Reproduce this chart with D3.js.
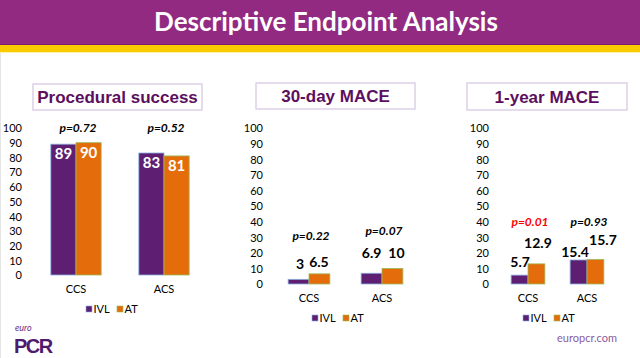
<!DOCTYPE html>
<html><head><meta charset="utf-8">
<script src="https://cdn.jsdelivr.net/npm/d3@7"></script>
<style>html,body{margin:0;padding:0;background:#fff;overflow:hidden}</style>
</head><body>
<svg id="c" width="640" height="358"></svg>
<script>
const categories = ["CCS", "ACS"];
const seriesNames = ["IVL", "AT"];
const yTicks = [0,10,20,30,40,50,60,70,80,90,100];
const panelTitles = ["Procedural success", "30-day MACE", "1-year MACE"];
const successIVL = [89, 83];
const successAT = [90, 81];
const mace30IVL = [3, 6.9];
const mace30AT = [6.5, 10];
const mace1yIVL = [5.7, 15.4];
const mace1yAT = [12.9, 15.7];
const pSuccess = ["p=0.72", "p=0.52"];
const pMace30 = ["p=0.22", "p=0.07"];
const pMace1y = ["p=0.01", "p=0.93"];
const pSignificant = [[false,false],[false,false],[true,false]];

const colors = {IVL:"#5E1F73", AT:"#E46C0A"};
const strokes = {IVL:"#8DB3E2", AT:"#9BBB59"};

const svg = d3.select("#c");
// header
svg.append("rect").attr("x",0).attr("y",0).attr("width",640).attr("height",45).attr("fill","#922A82");
svg.append("rect").attr("x",0).attr("y",44).attr("width",640).attr("height",1).attr("fill","#7A1F6E");
svg.append("rect").attr("x",0).attr("y",45).attr("width",640).attr("height",7).attr("fill","#F9CC00");
svg.append("rect").attr("x",0).attr("y",52).attr("width",640).attr("height",1).attr("fill","#FCEFB0");
svg.append("rect").attr("x",0).attr("y",53).attr("width",1).attr("height",305).attr("fill","#E4E4E4");
svg.append("text").attr("x",326).attr("y",31).attr("text-anchor","middle")
  .attr("font-family","Lato, 'Open Sans', sans-serif").attr("font-weight","bold")
  .attr("font-size",26).attr("fill","#fff").text("Descriptive Endpoint Analysis");

const panels = [
  {title:panelTitles[0], box:[33,84,169,26], ivl:successIVL, at:successAT, p:pSuccess, sig:pSignificant[0],
   y0:275, y1:128, tickX:22, xr:[32,208], inside:true, pY:[100,100], catY:289, legX:86, legY:309,
   dx:[[0,0],[0,0]], dy:[[0,0],[0,0]]},
  {title:panelTitles[1], box:[256,83,159,26], ivl:mace30IVL, at:mace30AT, p:pMace30, sig:pSignificant[1],
   y0:284, y1:128, tickX:263, xr:[272.5,418.5], inside:false, pY:[30.8,34], catY:298, legX:312, legY:318,
   dx:[[1.5,-0.5],[0,4]], dy:[[15,12],[20,15]]},
  {title:panelTitles[2], box:[467,83,160,27], ivl:mace1yIVL, at:mace1yAT, p:pMace1y, sig:pSignificant[2],
   y0:284, y1:128, tickX:489, xr:[498.5,616.5], inside:false, pY:[39.7,39.7], catY:298, legX:523, legY:318,
   dx:[[0.5,1.5],[-3.5,7.5]], dy:[[13,21],[8,19.5]]}
];

const fontC = "Lato, 'Open Sans', sans-serif";

panels.forEach(P => {
  const g = svg.append("g");
  g.append("rect").attr("x",P.box[0]).attr("y",P.box[1]).attr("width",P.box[2]).attr("height",P.box[3])
    .attr("fill","#fff").attr("stroke","#DDD0E8").attr("stroke-width",1.5);
  g.append("text").attr("x",P.box[0]+P.box[2]/2).attr("y",P.box[1]+P.box[3]/2+6)
    .attr("text-anchor","middle").attr("font-family","'Liberation Sans', Arial, sans-serif")
    .attr("font-weight","bold").attr("font-size",17).attr("fill","#5C0F5E").text(P.title);

  const y = d3.scaleLinear().domain([0,100]).range([P.y0,P.y1]);
  const x = d3.scaleBand().domain(categories).range(P.xr).paddingInner(0.428).paddingOuter(0.214);
  const xs = d3.scaleBand().domain(seriesNames).range([0,x.bandwidth()]);

  const ax = g.append("g").attr("transform",`translate(${P.tickX},0)`)
    .call(d3.axisLeft(y).tickValues(yTicks).tickSize(0).tickPadding(0));
  ax.select(".domain").remove();
  ax.selectAll("text").attr("font-family",fontC).attr("font-size",11).attr("fill","#000").attr("dy","0.35em");

  const data = categories.map((c,i)=>({c, i, vals:[{s:"IVL",v:P.ivl[i],j:0},{s:"AT",v:P.at[i],j:1}]}));
  const grp = g.selectAll(".grp").data(data).join("g").attr("transform",d=>`translate(${x(d.c)},0)`);
  grp.selectAll("rect").data(d=>d.vals).join("rect")
    .attr("x",d=>xs(d.s)).attr("y",d=>y(d.v)).attr("width",xs.bandwidth()).attr("height",d=>y(0)-y(d.v))
    .attr("fill",d=>colors[d.s]).attr("stroke",d=>strokes[d.s]).attr("stroke-width",0.8);

  grp.each(function(d){
    const gg = d3.select(this);
    d.vals.forEach(v=>{
      const cx = xs(v.s)+xs.bandwidth()/2;
      if (P.inside) {
        gg.append("text").attr("x",cx).attr("y",y(v.v)+15).attr("text-anchor","middle")
          .attr("font-family",fontC).attr("font-weight","bold").attr("font-size",15).attr("fill","#fff").text(v.v);
      } else {
        gg.append("text").attr("x",cx+P.dx[d.i][v.j]).attr("y",y(v.v)-P.dy[d.i][v.j]).attr("dy","0.35em")
          .attr("text-anchor","middle").attr("font-family",fontC).attr("font-weight","bold")
          .attr("font-size",14).attr("fill","#000").text(v.v);
      }
    });
    gg.append("text").attr("x",x.bandwidth()/2+2).attr("y",y(P.pY[d.i])).attr("dy","0.35em")
      .attr("text-anchor","middle").attr("font-family",fontC).attr("font-weight","bold").attr("font-style","italic")
      .attr("font-size",12).attr("fill",P.sig[d.i]?"#FF0000":"#000").text(P.p[d.i]);
    gg.append("text").attr("x",x.bandwidth()/2).attr("y",P.catY).attr("dy","0.35em")
      .attr("text-anchor","middle").attr("font-family",fontC).attr("font-size",11).attr("fill","#000").text(d.c);
  });

  const leg = g.append("g").attr("transform",`translate(${P.legX},${P.legY})`);
  seriesNames.forEach((s,k)=>{
    const lx = k*31;
    leg.append("rect").attr("x",lx).attr("y",-3).attr("width",6).attr("height",6)
      .attr("fill",colors[s]).attr("stroke",strokes[s]).attr("stroke-width",0.6);
    leg.append("text").attr("x",lx+7.5).attr("y",0).attr("dy","0.35em").attr("font-family",fontC)
      .attr("font-size",11).attr("fill","#000").text(s);
  });
});

// footer
svg.append("text").attr("x",15).attr("y",331).attr("font-family",fontC).attr("font-style","italic")
  .attr("font-size",9).attr("fill","#6A2C82").text("euro");
svg.append("text").attr("x",14).attr("y",353).attr("font-family","'Liberation Sans', Arial, sans-serif")
  .attr("font-weight","bold").attr("font-size",20).attr("letter-spacing",-1.5).attr("fill","#4E1A6E").text("PCR");
svg.append("text").attr("x",617).attr("y",342).attr("text-anchor","end").attr("font-family",fontC)
  .attr("font-size",11).attr("fill","#8A5A9E").text("europcr.com");
</script>
</body></html>
